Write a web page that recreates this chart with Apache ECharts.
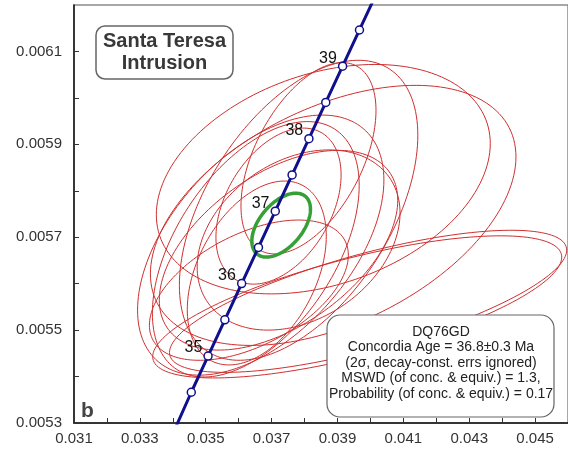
<!DOCTYPE html>
<html>
<head>
<meta charset="utf-8">
<script src="https://cdn.jsdelivr.net/npm/echarts@6/dist/echarts.min.js"></script>
<style>
  html, body { margin: 0; padding: 0; background: #fff; }
  #chart { width: 568px; height: 452px; }
</style>
</head>
<body>
<div id="chart"></div>
<script>
// Concordia curve nodes: 207Pb/235U (x) vs 206Pb/238U (y), every 0.5 Ma
const concordiaAges = [33.5, 34, 34.5, 35, 35.5, 36, 36.5, 37, 37.5, 38, 38.5, 39, 39.5, 40];
const concordiaX = [0.0335429, 0.0340718, 0.0345612, 0.0350707, 0.0355805, 0.0360905, 0.0366009,
                    0.0371115, 0.0376224, 0.0381334, 0.0386447, 0.0391563, 0.0396681, 0.0401803];
const concordiaY = [0.0052102, 0.0052882, 0.0053662, 0.0054441, 0.0055221, 0.0056001, 0.0056781,
                    0.0057561, 0.0058341, 0.0059122, 0.0059902, 0.0060682, 0.0061462, 0.0062243];

// Age ticks marked on the curve
const markerAges = [34.5, 35, 35.5, 36, 36.5, 37, 37.5, 38, 38.5, 39, 39.5];

// Spot analyses: centre, 2-sigma errors and error correlation
const spotX   = [0.03857, 0.03887, 0.03782, 0.03812, 0.03721, 0.03960, 0.03993, 0.03721, 0.03667, 0.03652, 0.03655, 0.03631, 0.03782];
const spotY   = [0.005825, 0.005747, 0.005758, 0.005870, 0.005767, 0.005550, 0.005562, 0.005672, 0.005683, 0.005674, 0.005623, 0.005586, 0.005694];
const spotSX  = [0.00507, 0.00555, 0.00362, 0.00205, 0.00190, 0.00621, 0.00603, 0.00362, 0.00374, 0.00314, 0.00211, 0.00302, 0.00308];
const spotSY  = [0.000247, 0.000280, 0.000323, 0.000206, 0.000168, 0.000153, 0.000153, 0.000215, 0.000280, 0.000275, 0.000198, 0.000151, 0.000194];
const spotRho = [0.31, 0.45, 0.5, 0.5, 0.4, 0.7, 0.72, 0.5, 0.5, 0.5, 0.4, 0.5, 0.3];

// Concordia age ellipse (36.8 Ma)
const concAgeX = [0.03729];
const concAgeY = [0.005726];
const concAgeSX = [0.00089];
const concAgeSY = [0.0000688];
const concAgeRho = [0.5];

// Axis tick labels
const xTickLabels = ['0.031', '0.033', '0.035', '0.037', '0.039', '0.041', '0.043', '0.045'];
const yTickLabels = ['0.0053', '0.0055', '0.0057', '0.0059', '0.0061'];

const FONT = 'Liberation Sans, Arial, Helvetica, sans-serif';

function ellipseRenderer(color, width) {
  return function (params, api) {
    const cx = api.value(0), cy = api.value(1);
    const sx = api.value(2), sy = api.value(3), r = api.value(4);
    const k = Math.sqrt(1 - r * r);
    const pts = [];
    const n = 160;
    for (let i = 0; i < n; i++) {
      const t = (i / n) * Math.PI * 2;
      const c = Math.cos(t), s = Math.sin(t);
      pts.push(api.coord([cx + sx * c, cy + sy * (r * c + k * s)]));
    }
    const cs = params.coordSys;
    return {
      type: 'polygon',
      shape: { points: pts },
      style: { fill: 'none', stroke: color, lineWidth: width },
      clipPath: { type: 'rect', shape: { x: cs.x, y: cs.y, width: cs.width, height: cs.height } }
    };
  };
}

const spotData = spotX.map((x, i) => [x, spotY[i], spotSX[i], spotSY[i], spotRho[i]]);
const concAgeData = concAgeX.map((x, i) => [x, concAgeY[i], concAgeSX[i], concAgeSY[i], concAgeRho[i]]);
const curveData = concordiaX.map((x, i) => [x, concordiaY[i]]);
const markerData = markerAges.map(a => {
  const i = concordiaAges.indexOf(a);
  return { value: [concordiaX[i], concordiaY[i], a] };
});

const chart = echarts.init(document.getElementById('chart'), null, { renderer: 'canvas' });

chart.setOption({
  animation: false,
  backgroundColor: '#fff',
  grid: {
    left: 74, right: -3, top: 5, bottom: 29,
    show: true, borderColor: '#8a8a8a', borderWidth: 1.5, backgroundColor: 'transparent'
  },
  xAxis: {
    type: 'value', min: 0.031, max: 0.046, interval: 0.001,
    axisLine: { onZero: false, lineStyle: { color: '#111', width: 1.5 } },
    axisTick: { inside: true, length: 5, lineStyle: { color: '#333', width: 1 } },
    splitLine: { show: false },
    axisLabel: {
      margin: 8, fontSize: 15, color: '#333', fontFamily: FONT,
      showMaxLabel: false,
      formatter: v => {
        const s = v.toFixed(3);
        return xTickLabels.indexOf(s) >= 0 ? s : '';
      }
    }
  },
  yAxis: {
    type: 'value', min: 0.0053, max: 0.0062, interval: 0.0001,
    axisLine: { onZero: false, lineStyle: { color: '#111', width: 1.5 } },
    axisTick: { inside: true, length: 5, lineStyle: { color: '#333', width: 1 } },
    splitLine: { show: false },
    axisLabel: {
      margin: 12, fontSize: 15, color: '#333', fontFamily: FONT,
      showMaxLabel: false,
      formatter: v => {
        const s = v.toFixed(4);
        return yTickLabels.indexOf(s) >= 0 ? s : '';
      }
    }
  },
  series: [
    {
      type: 'custom', name: 'spots', data: spotData, z: 2, clip: true,
      renderItem: ellipseRenderer('#cf2f2f', 1)
    },
    {
      type: 'line', name: 'concordia', data: curveData, z: 4,
      showSymbol: false, silent: true,
      lineStyle: { color: '#10108c', width: 3 }
    },
    {
      type: 'custom', name: 'concordia age', data: concAgeData, z: 3, clip: true,
      renderItem: ellipseRenderer('#35a035', 3.5)
    },
    {
      type: 'scatter', name: 'age ticks', data: markerData, z: 5,
      symbol: 'circle', symbolSize: 8,
      itemStyle: { color: '#fff', borderColor: '#10108c', borderWidth: 1.5, opacity: 1 },
      label: {
        show: true, position: 'left', distance: 1, offset: [0, -8],
        fontSize: 16, color: '#111', fontFamily: FONT,
        formatter: p => Number.isInteger(p.value[2]) ? String(p.value[2]) : ''
      }
    }
  ],
  graphic: [
    {
      type: 'rect', z: 100,
      shape: { x: 96, y: 26, width: 137, height: 53, r: 9 },
      style: { fill: '#fff', stroke: '#666', lineWidth: 1.5 }
    },
    {
      type: 'text', z: 101, x: 164.5, y: 52,
      style: {
        text: 'Santa Teresa\nIntrusion', fill: '#383838',
        font: 'bold 20px ' + FONT, align: 'center', verticalAlign: 'middle', lineHeight: 22
      }
    },
    {
      type: 'rect', z: 100,
      shape: { x: 327, y: 315, width: 227, height: 102, r: 13 },
      style: { fill: '#fff', stroke: '#666', lineWidth: 1.2 }
    },
    {
      type: 'text', z: 101, x: 441, y: 363,
      style: {
        text: 'DQ76GD\nConcordia Age = 36.8±0.3 Ma\n(2σ, decay-const. errs ignored)\nMSWD (of conc. & equiv.) = 1.3,\nProbability (of conc. & equiv.) = 0.17',
        fill: '#222', font: '14px ' + FONT, align: 'center', verticalAlign: 'middle', lineHeight: 15.6
      }
    },
    {
      type: 'text', z: 101, x: 81, y: 411,
      style: { text: 'b', fill: '#444', font: 'bold 21px ' + FONT, align: 'left', verticalAlign: 'middle' }
    }
  ]
});
</script>
</body>
</html>
